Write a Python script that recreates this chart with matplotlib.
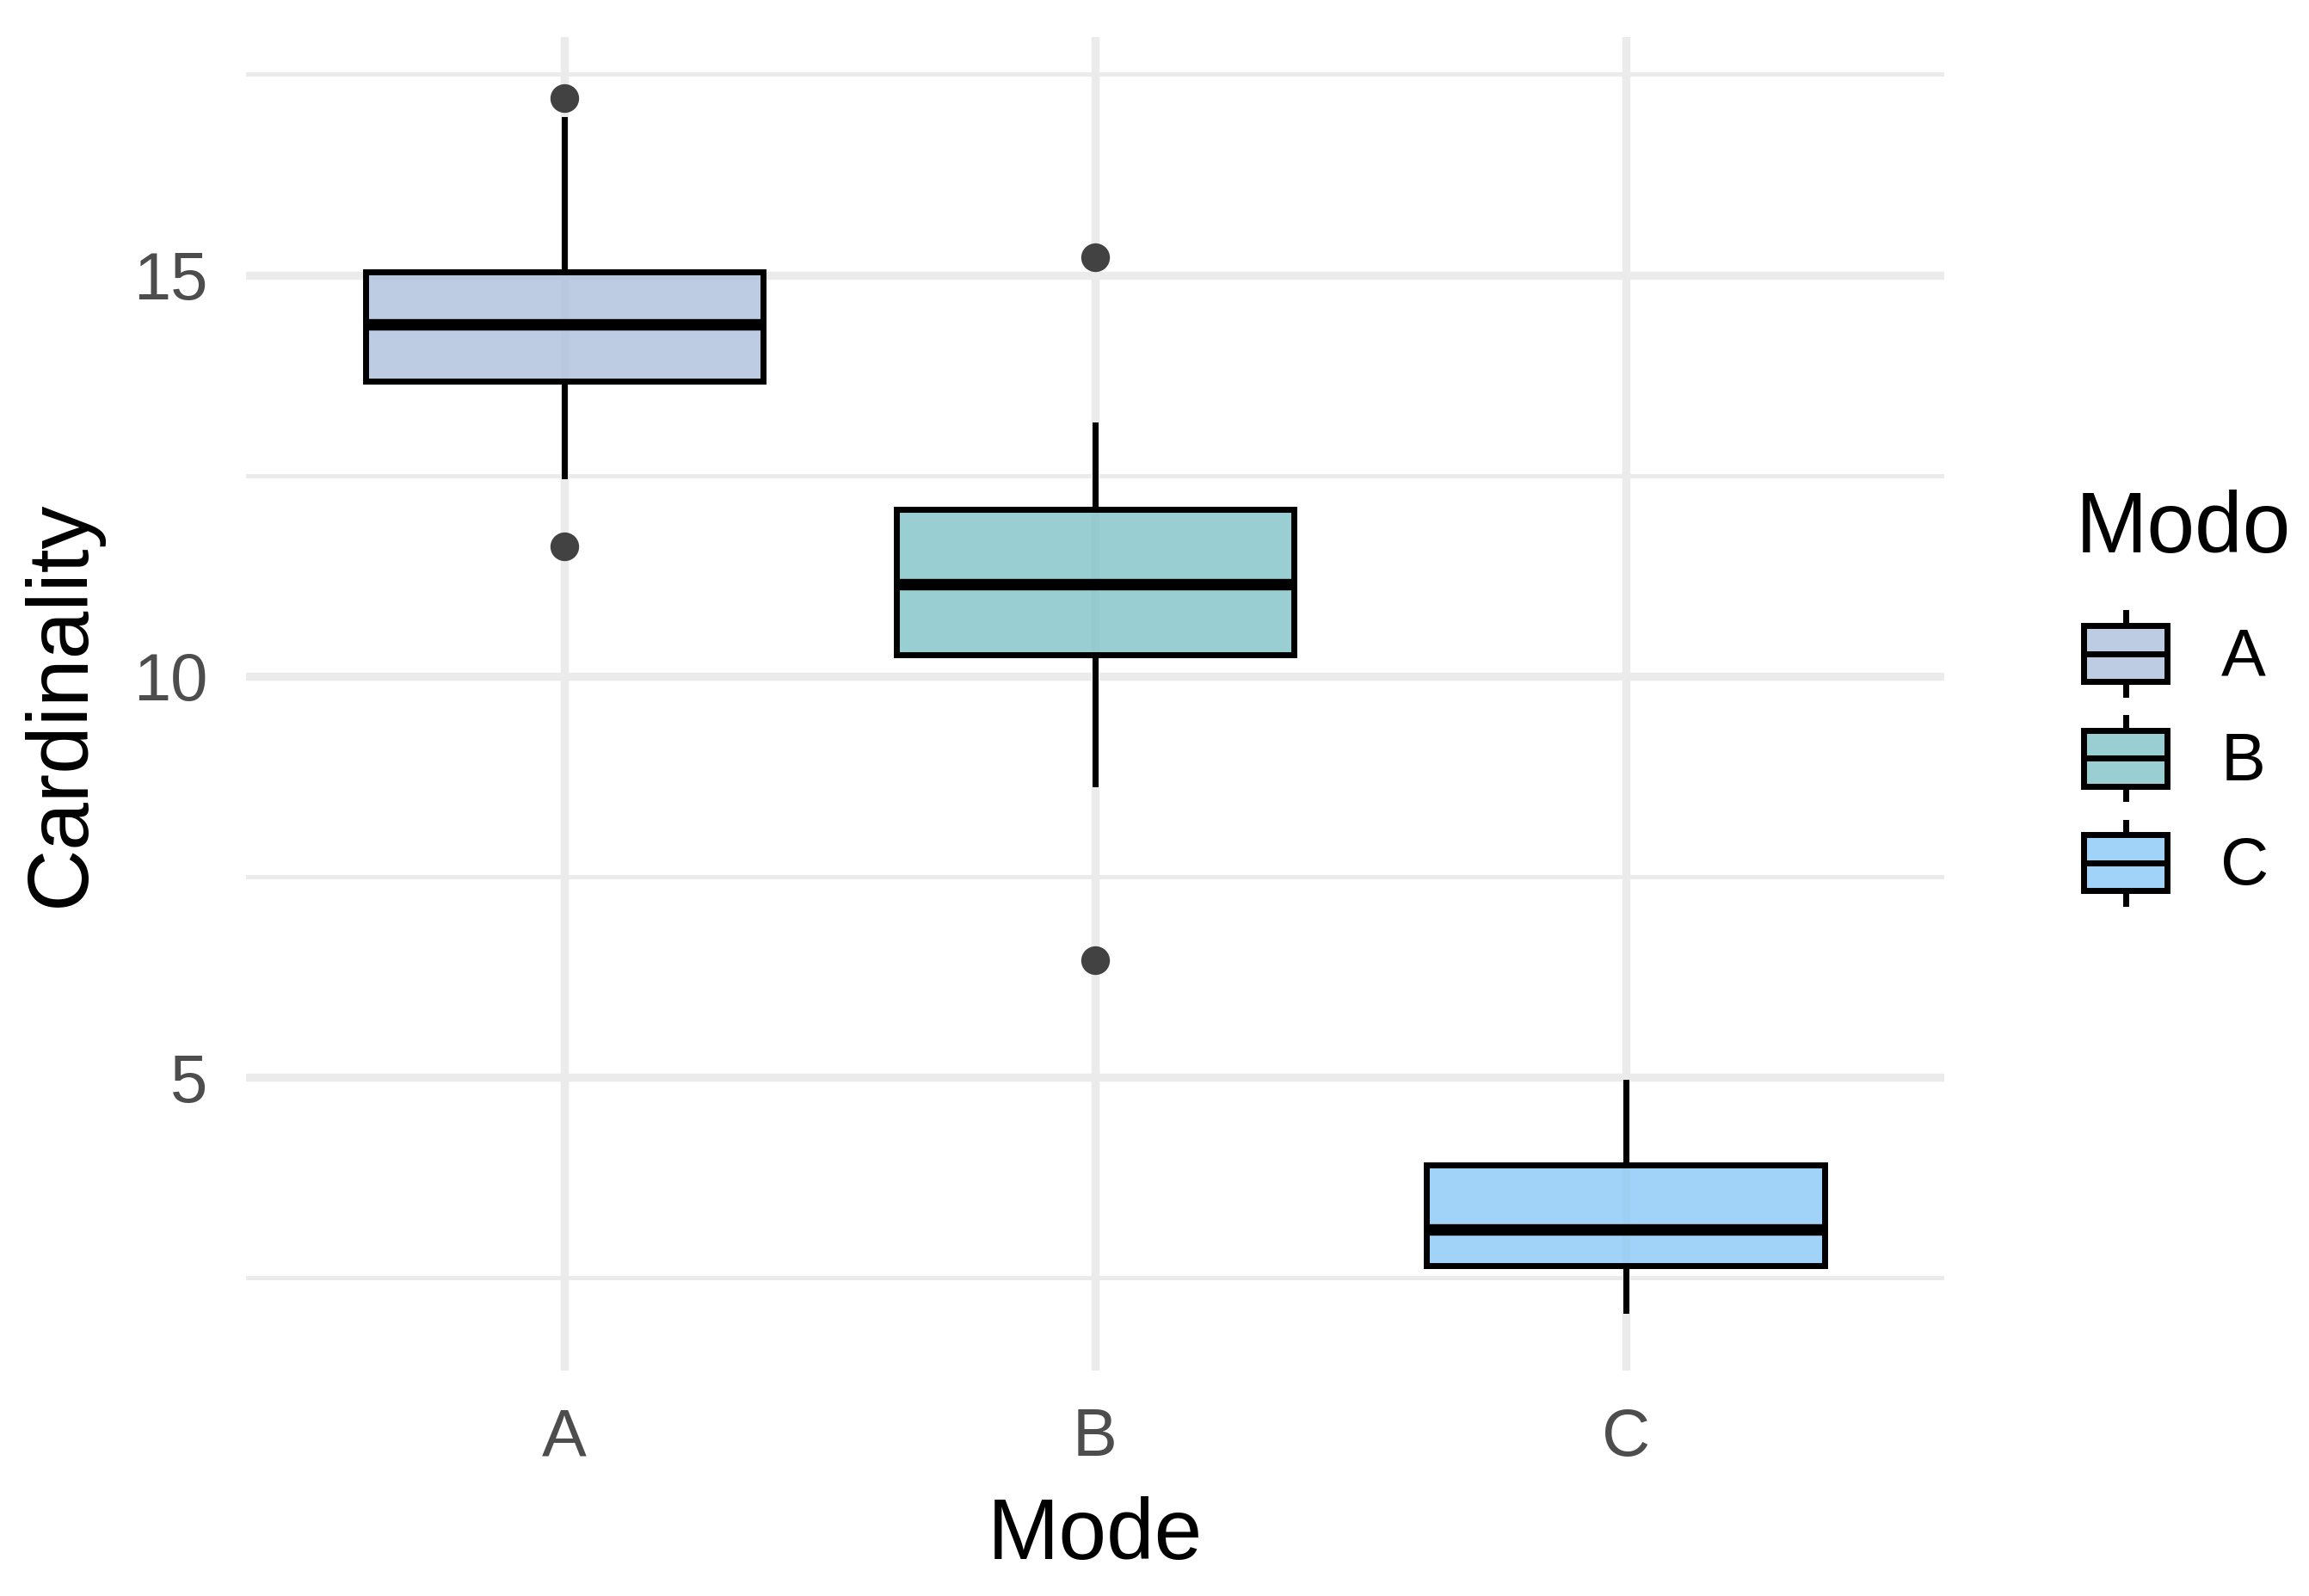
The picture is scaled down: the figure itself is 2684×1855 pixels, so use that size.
import matplotlib.pyplot as plt
from matplotlib.colors import to_rgba
from matplotlib.legend_handler import HandlerBase
from matplotlib.patches import Patch, Rectangle
from matplotlib.lines import Line2D

plt.rcParams['font.family'] = ['Liberation Sans', 'DejaVu Sans']

# box statistics
modes = ['A', 'B', 'C']
q1 = [13.68, 10.27, 2.65]
med = [14.39, 11.15, 3.10]
q3 = [15.04, 12.08, 3.91]
whislo = [12.50, 8.66, 2.10]
whishi = [16.94, 13.13, 4.94]
fliers = [[17.21, 11.62], [15.22, 6.46], []]
fills = ['#ADBFDD', '#80C2C8', '#88C9F5']

stats = []
for i in range(len(modes)):
    stats.append({'label': modes[i], 'q1': q1[i], 'med': med[i], 'q3': q3[i],
                  'whislo': whislo[i], 'whishi': whishi[i], 'fliers': fliers[i]})

fig = plt.figure(figsize=(13.42, 9.275), dpi=200)
ax = fig.add_axes([0.1065, 0.141, 0.7355, 0.836])

# grid like theme_minimal
ax.set_axisbelow(True)
for s in ax.spines.values():
    s.set_visible(False)
ax.set_yticks([5, 10, 15])
ax.set_yticks([2.5, 7.5, 12.5, 17.5], minor=True)
ax.grid(True, which='major', color='#EBEBEB', lw=3.4)
ax.grid(True, which='minor', axis='y', color='#EBEBEB', lw=1.8)

bp = ax.bxp(stats, positions=[1, 2, 3], widths=0.75, patch_artist=True, showcaps=False,
            boxprops=dict(edgecolor='black', lw=2.5),
            medianprops=dict(color='black', lw=4.8, solid_capstyle='butt'),
            whiskerprops=dict(color='black', lw=2.5),
            flierprops=dict(marker='o', markersize=11, markerfacecolor='#424242',
                            markeredgecolor='#424242'))
for patch, c in zip(bp['boxes'], fills):
    patch.set_facecolor(to_rgba(c, 0.8))
    patch.set_edgecolor('black')

ax.set_xlim(0.4, 3.6)
ax.set_ylim(1.34, 17.97)
ax.tick_params(which='both', length=0, labelsize=28, labelcolor='#4D4D4D')
ax.tick_params(axis='y', pad=16)
ax.tick_params(axis='x', pad=15)
ax.set_xlabel('Mode', fontsize=36, labelpad=11)
ax.set_ylabel('Cardinality', fontsize=36, labelpad=13)


class BoxKey(HandlerBase):
    def create_artists(self, legend, orig_handle, xdescent, ydescent, width, height, fontsize, trans):
        x0, y0 = -xdescent, -ydescent
        bh = height * 0.69
        by = y0 + (height - bh) / 2
        rect = Rectangle((x0, by), width, bh, facecolor=orig_handle.get_facecolor(),
                         edgecolor='black', lw=2.5, transform=trans)
        xm = x0 + width / 2
        mline = Line2D([x0, x0 + width], [y0 + height / 2] * 2, color='black', lw=2.5, transform=trans)
        top = Line2D([xm, xm], [by + bh, y0 + height], color='black', lw=2.5, transform=trans)
        bot = Line2D([xm, xm], [y0, by], color='black', lw=2.5, transform=trans)
        return [top, bot, rect, mline]


handles = [Patch(facecolor=to_rgba(c, 0.8)) for c in fills]
fig.text(0.899, 0.6537, 'Modo', fontsize=36, va='baseline', ha='left')
leg = fig.legend(handles, modes, loc='upper left', bbox_to_anchor=(0.9024, 0.616),
                 frameon=False, fontsize=28, handlelength=1.25, handleheight=1.49,
                 labelspacing=0.35, handletextpad=0.8, borderpad=0, borderaxespad=0,
                 handler_map={Patch: BoxKey()})

fig.savefig('out.png', dpi=200, facecolor='white')
